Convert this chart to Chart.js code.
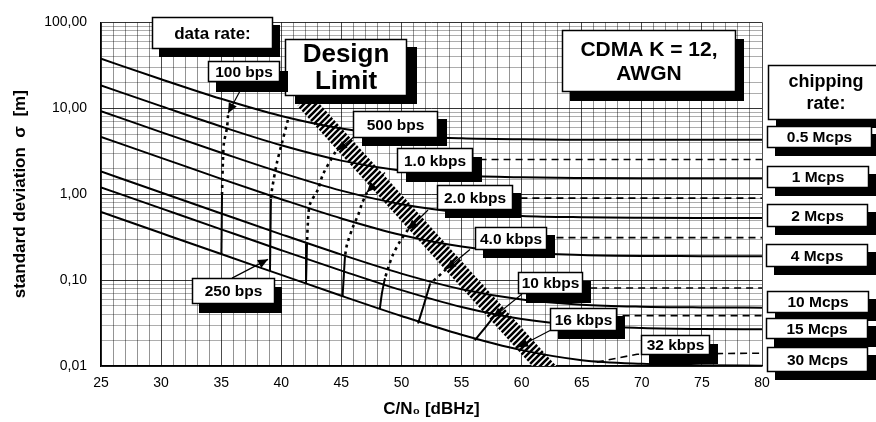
<!DOCTYPE html>
<html><head><meta charset="utf-8">
<script src="https://cdn.jsdelivr.net/npm/chart.js@4.4.0/dist/chart.umd.min.js"></script>
<style>html,body{margin:0;padding:0;background:#fff;}canvas{display:block}</style>
</head><body>
<canvas id="c" width="876" height="422"></canvas>
<script>
const FONT = '"Liberation Sans", Arial, Helvetica, sans-serif';

// C/N0 [dBHz] sample points
const cn0 = [25, 30, 35, 40, 45, 50, 55, 60, 65, 70, 75, 80];
// chipping rates
const chipRates = ['0.5 Mcps', '1 Mcps', '2 Mcps', '4 Mcps', '10 Mcps', '15 Mcps', '30 Mcps'];
// standard deviation sigma [m] per chipping rate
const sigma05 = [37.8, 21.8, 12.9, 8.14, 5.82, 4.83, 4.47, 4.35, 4.31, 4.29, 4.29, 4.29];
const sigma1  = [18.4, 10.6, 6.14, 3.71, 2.46, 1.88, 1.65, 1.57, 1.54, 1.53, 1.53, 1.53];
const sigma2  = [9.27, 5.28, 3.04, 1.78, 1.10, 0.764, 0.615, 0.559, 0.540, 0.533, 0.530, 0.530];
const sigma4  = [4.65, 2.65, 1.51, 0.875, 0.522, 0.335, 0.246, 0.209, 0.196, 0.191, 0.190, 0.189];
const sigma10 = [1.84, 1.045, 0.596, 0.341, 0.198, 0.119, 0.0783, 0.0594, 0.0517, 0.0490, 0.0481, 0.0478];
const sigma15 = [1.20, 0.684, 0.390, 0.223, 0.129, 0.0764, 0.0487, 0.0353, 0.0297, 0.0277, 0.0269, 0.0267];
const sigma30 = [0.621, 0.353, 0.201, 0.115, 0.0657, 0.0382, 0.0231, 0.0153, 0.0117, 0.0106, 0.0102, 0.0101];

// data rates
const dataRates = ['100 bps', '250 bps', '500 bps', '1.0 kbps', '2.0 kbps', '4.0 kbps', '10 kbps', '16 kbps', '32 kbps'];
// data-rate contours [C/N0, sigma]
const rate100Dotted = [[35.57, 8.3], [35.48, 5.9], [35.23, 3.96], [35.15, 2.52], [35.07, 1.0]];
const rate100Solid  = [[35.07, 1.0], [35.02, 0.201]];
const rate250Dotted = [[40.55, 7.3], [40.06, 3.96], [39.64, 2.33], [39.23, 1.14], [39.14, 0.877]];
const rate250Solid  = [[39.14, 0.877], [39.06, 0.128]];
const rate500Dotted = [[44.5, 3.1], [43.47, 1.70], [43.06, 1.14], [42.39, 0.767], [42.22, 0.477], [42.14, 0.266]];
const rate500Solid  = [[42.14, 0.266], [42.06, 0.0905]];
const rate1kDotted  = [[47.13, 1.05], [46.7, 0.767], [46.4, 0.574], [45.97, 0.418], [45.47, 0.259], [45.3, 0.189]];
const rate1kSolid   = [[45.3, 0.189], [45.1, 0.065]];
const rate2kDotted  = [[50.54, 0.386], [49.87, 0.281], [49.3, 0.199], [48.88, 0.137], [48.63, 0.105]];
const rate2kSolid   = [[48.63, 0.105], [48.38, 0.0708], [48.2, 0.0464]];
const rate4kDotted  = [[53.71, 0.134], [52.38, 0.090]];
const rate4kSolid   = [[52.38, 0.090], [51.79, 0.0477], [51.38, 0.0313]];
const rate10kSolid  = [[57.62, 0.0366], [56.9, 0.0273], [56.1, 0.0199]];
const rate32kDashed = [[66.26, 0.0111], [69.6, 0.0137], [80, 0.0141]];
// data-rate floor levels (dashed)
const rate1kLevel  = [[56.5, 2.53], [80, 2.53]];
const rate2kLevel  = [[59.9, 0.90], [80, 0.90]];
const rate4kLevel  = [[62.9, 0.312], [80, 0.312]];
const rate10kLevel = [[65.7, 0.081], [80, 0.081]];
const rate16kLevel = [[68.4, 0.0386], [80, 0.0386]];
// design limit
const designLimit = [[41.9, 12.5], [62.5, 0.008]];

const canvas = document.getElementById('c');
const mainCtx = canvas.getContext('2d');

function hatchPattern() {
  const t = document.createElement('canvas');
  t.width = 6; t.height = 6;
  const g = t.getContext('2d');
  g.fillStyle = '#fff'; g.fillRect(0, 0, 6, 6);
  g.strokeStyle = '#000'; g.lineWidth = 2.6;
  g.beginPath();
  g.moveTo(0, 6); g.lineTo(6, 0);
  g.moveTo(-3, 3); g.lineTo(3, -3);
  g.moveTo(3, 9); g.lineTo(9, 3);
  g.stroke();
  return mainCtx.createPattern(t, 'repeat');
}

const toXY = pts => pts.map(p => ({ x: p[0], y: p[1] }));
const curve = arr => cn0.map((c, i) => ({ x: c, y: arr[i] }));

function ds(data, opts) {
  return Object.assign({ data, borderColor: '#000', borderWidth: 2, pointRadius: 0, fill: false, tension: 0 }, opts || {});
}
const dotted = { borderDash: [3, 4], borderWidth: 2.6, tension: 0.3 };
const dashed = { borderDash: [7, 5], borderWidth: 1.6 };

const datasets = [
  ds(curve(sigma05), { cubicInterpolationMode: 'monotone', label: chipRates[0] }),
  ds(curve(sigma1),  { cubicInterpolationMode: 'monotone', label: chipRates[1] }),
  ds(curve(sigma2),  { cubicInterpolationMode: 'monotone', label: chipRates[2] }),
  ds(curve(sigma4),  { cubicInterpolationMode: 'monotone', label: chipRates[3] }),
  ds(curve(sigma10), { cubicInterpolationMode: 'monotone', label: chipRates[4] }),
  ds(curve(sigma15), { cubicInterpolationMode: 'monotone', label: chipRates[5] }),
  ds(curve(sigma30), { cubicInterpolationMode: 'monotone', label: chipRates[6] }),
  ds(toXY(rate100Dotted), dotted), ds(toXY(rate100Solid)),
  ds(toXY(rate250Dotted), dotted), ds(toXY(rate250Solid)),
  ds(toXY(rate500Dotted), dotted), ds(toXY(rate500Solid)),
  ds(toXY(rate1kDotted), dotted), ds(toXY(rate1kSolid)),
  ds(toXY(rate2kDotted), dotted), ds(toXY(rate2kSolid), { tension: 0.3 }),
  ds(toXY(rate4kDotted), dotted), ds(toXY(rate4kSolid), { tension: 0.3 }),
  ds(toXY(rate10kSolid), { tension: 0.3 }),
  ds(toXY(rate32kDashed), dashed),
  ds(toXY(rate1kLevel), dashed),
  ds(toXY(rate2kLevel), dashed),
  ds(toXY(rate4kLevel), dashed),
  ds(toXY(rate10kLevel), dashed),
  ds(toXY(rate16kLevel), dashed),
  ds(toXY(designLimit), { borderWidth: 18, borderColor: hatchPattern(), clip: 0, borderCapStyle: 'butt' })
];

// annotation boxes: anchor (top-left) in data units, size in px
const boxes = [
  { text: ['data rate:'], x: 29.244, y: 114.2, w: 121, h: 32, size: 17, sx: 7, sy: 8 },
  { text: ['Design', 'Limit'], x: 40.31, y: 63.78, w: 122, h: 57, size: 26, lh: 27, sx: 10, sy: 8 },
  { text: ['CDMA K = 12,', 'AWGN'], x: 63.36, y: 80.91, w: 174, h: 62, size: 21, lh: 24, sx: 8, sy: 9 },
  { text: ['chipping', 'rate:'], x: 80.5, y: 32.04, w: 116, h: 55, size: 18, lh: 22, sx: 8, sy: 8 },
  { text: [chipRates[0]], x: 80.417, y: 6.21, w: 105, h: 22, size: 15.5, sx: 8, sy: 8 },
  { text: [chipRates[1]], x: 80.417, y: 2.154, w: 102, h: 22, size: 15.5, sx: 8, sy: 8 },
  { text: [chipRates[2]], x: 80.417, y: 0.7675, w: 101, h: 23, size: 15.5, sx: 8, sy: 8 },
  { text: [chipRates[3]], x: 80.334, y: 0.2662, w: 102, h: 23, size: 15.5, sx: 8, sy: 8 },
  { text: [chipRates[4]], x: 80.417, y: 0.0747, w: 102, h: 22, size: 15.5, sx: 8, sy: 8 },
  { text: [chipRates[5]], x: 80.334, y: 0.03657, w: 102, h: 21, size: 15.5, sx: 8, sy: 8 },
  { text: [chipRates[6]], x: 80.417, y: 0.01654, w: 101, h: 25, size: 15.5, sx: 8, sy: 8 },
  { text: [dataRates[0]], x: 33.903, y: 35.62, w: 72, h: 21, size: 15.5, sx: 8, sy: 10 },
  { text: [dataRates[1]], x: 32.572, y: 0.1054, w: 83, h: 26, size: 15.5, sx: 7, sy: 9 },
  { text: [dataRates[2]], x: 45.968, y: 9.238, w: 85, h: 27, size: 15.5, sx: 9, sy: 8 },
  { text: [dataRates[3]], x: 49.63, y: 3.469, w: 76, h: 25, size: 15.5, sx: 9, sy: 9 },
  { text: [dataRates[4]], x: 52.958, y: 1.269, w: 76, h: 25, size: 15.5, sx: 8, sy: 8 },
  { text: [dataRates[5]], x: 56.12, y: 0.4175, w: 72, h: 23, size: 15.5, sx: 8, sy: 8 },
  { text: [dataRates[6]], x: 59.698, y: 0.1236, w: 65, h: 22, size: 15.5, sx: 8, sy: 9 },
  { text: [dataRates[7]], x: 62.361, y: 0.04767, w: 67, h: 23, size: 15.5, sx: 8, sy: 8 },
  { text: [dataRates[8]], x: 69.933, y: 0.02272, w: 69, h: 20, size: 15.5, sx: 8, sy: 9 }
];
// label pointers: from label to arrow tip (data units)
const pointers = [
  { from: [36.98, 20.4], to: [35.57, 8.76] },
  { from: [35.9, 0.1054], to: [38.9, 0.1743] },
  { from: [46.13, 4.77], to: [44.64, 3.2] },
  { from: [48.63, 1.79], to: [47.13, 1.054] },
  { from: [52.21, 0.655], to: [50.54, 0.386] },
  { from: [55.70, 0.2272], to: [53.71, 0.1338] },
  { from: [60.03, 0.0690], to: [57.62, 0.0366] },
  { from: [62.36, 0.0259], to: [59.70, 0.01654] }
];

const labelPlugin = {
  id: 'labelBoxes',
  afterDatasetsDraw(chart) {
    const { ctx } = chart;
    const xs = chart.scales.x, ys = chart.scales.y;
    ctx.save();
    pointers.forEach(p => {
      const x1 = xs.getPixelForValue(p.from[0]), y1 = ys.getPixelForValue(p.from[1]);
      const x2 = xs.getPixelForValue(p.to[0]), y2 = ys.getPixelForValue(p.to[1]);
      ctx.strokeStyle = '#000'; ctx.lineWidth = 1.2; ctx.setLineDash([]);
      ctx.beginPath(); ctx.moveTo(x1, y1); ctx.lineTo(x2, y2); ctx.stroke();
      const a = Math.atan2(y2 - y1, x2 - x1), L = 10, W = 4.5;
      ctx.fillStyle = '#000';
      ctx.beginPath();
      ctx.moveTo(x2, y2);
      ctx.lineTo(x2 - L * Math.cos(a) + W * Math.sin(a), y2 - L * Math.sin(a) - W * Math.cos(a));
      ctx.lineTo(x2 - L * Math.cos(a) - W * Math.sin(a), y2 - L * Math.sin(a) + W * Math.cos(a));
      ctx.closePath(); ctx.fill();
    });
    boxes.forEach(b => {
      const px = Math.round(xs.getPixelForValue(b.x)), py = Math.round(ys.getPixelForValue(b.y));
      ctx.fillStyle = '#000';
      ctx.fillRect(px + b.sx, py + b.sy, b.w, b.h);
      ctx.fillStyle = '#fff';
      ctx.fillRect(px, py, b.w, b.h);
      ctx.strokeStyle = '#000'; ctx.lineWidth = 1.5;
      ctx.strokeRect(px + 0.5, py + 0.5, b.w - 1, b.h - 1);
      ctx.fillStyle = '#000';
      ctx.font = 'bold ' + b.size + 'px ' + FONT;
      ctx.textAlign = 'center'; ctx.textBaseline = 'middle';
      const lh = b.lh || b.size * 1.2;
      const cy = py + b.h / 2 + 1;
      const n = b.text.length;
      b.text.forEach((t, i) => {
        ctx.fillText(t, px + b.w / 2, cy + (i - (n - 1) / 2) * lh);
      });
    });
    ctx.restore();
  }
};

const isDecade = v => { const l = Math.log10(v); return Math.abs(l - Math.round(l)) < 1e-6; };

new Chart(canvas, {
  type: 'line',
  data: { datasets },
  plugins: [labelPlugin],
  options: {
    responsive: false,
    animation: false,
    devicePixelRatio: 1,
    layout: { padding: { left: 0, right: 114, top: 18, bottom: 0 } },
    plugins: { legend: { display: false }, tooltip: { enabled: false }, title: { display: false } },
    scales: {
      x: {
        type: 'linear', min: 25, max: 80,
        afterFit: s => { s.height = 56; },
        ticks: {
          stepSize: 1, autoSkip: false, maxRotation: 0, padding: 9, color: '#000',
          font: { family: FONT, size: 14 },
          callback: v => (v % 5 === 0 ? String(v) : '')
        },
        grid: {
          drawTicks: false,
          color: c => (c.tick && c.tick.value % 5 === 0) ? 'rgba(0,0,0,0.7)' : 'rgba(0,0,0,0.42)',
          lineWidth: 1
        },
        border: { color: '#000', width: 1.5 },
        title: { display: true, text: 'C/N₀ [dBHz]', color: '#000', font: { family: FONT, size: 17, weight: 'bold' }, padding: { top: 0, bottom: 2 } }
      },
      y: {
        type: 'logarithmic', min: 0.01, max: 100,
        afterFit: s => { s.width = 101; },
        ticks: {
          autoSkip: false, padding: 14, color: '#000',
          font: { family: FONT, size: 14 },
          callback: v => (isDecade(v) ? Number(v).toFixed(2).replace('.', ',') : '')
        },
        grid: {
          drawTicks: false,
          color: c => (c.tick && isDecade(c.tick.value)) ? 'rgba(0,0,0,0.8)' : 'rgba(0,0,0,0.32)',
          lineWidth: 1
        },
        border: { color: '#000', width: 1.5 },
        title: { display: true, text: 'standard deviation  σ  [m]', color: '#000', font: { family: FONT, size: 17, weight: 'bold' }, padding: { top: 10, bottom: 0 } }
      }
    }
  }
});
</script>
</body></html>
